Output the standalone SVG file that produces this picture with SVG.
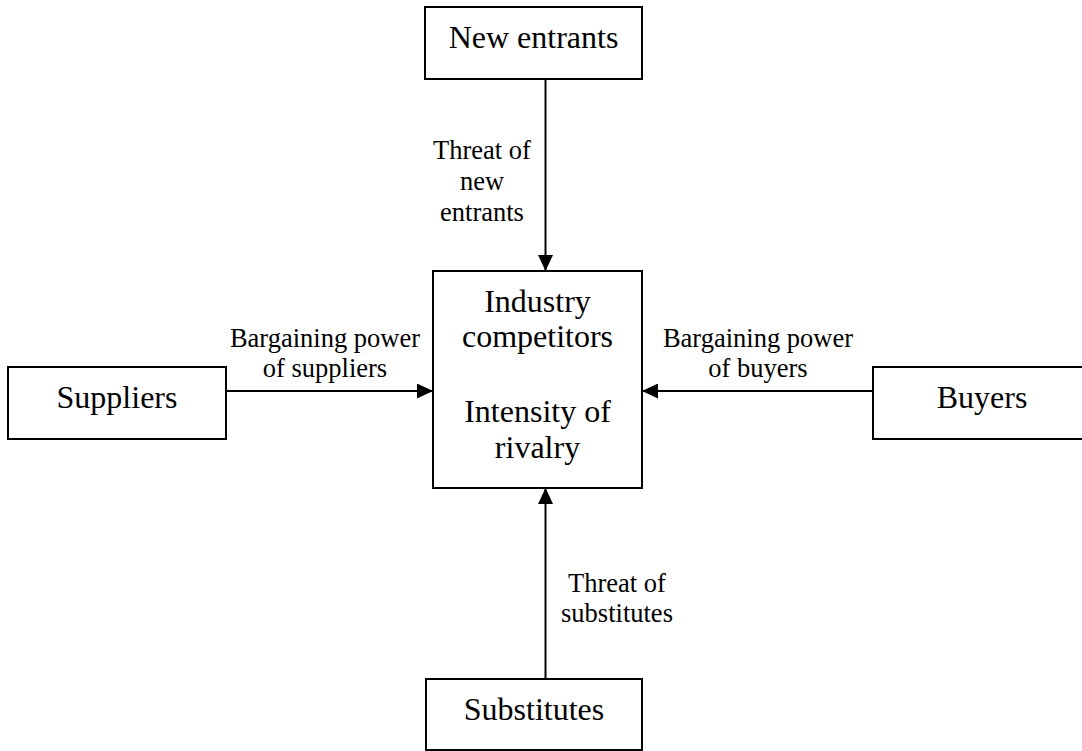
<svg xmlns="http://www.w3.org/2000/svg" width="1082" height="751" viewBox="0 0 1082 751">
<style>
.box{fill:#fff;stroke:#000;stroke-width:2}
.node{font-family:"Liberation Serif","Times New Roman",serif;font-size:32px;fill:#000;text-anchor:middle}
.lbl{font-family:"Liberation Serif","Times New Roman",serif;font-size:26.5px;fill:#000;text-anchor:middle}
.conn{stroke:#000;stroke-width:2;fill:none;marker-end:url(#arr)}
</style>
<defs>
<marker id="arr" markerUnits="userSpaceOnUse" markerWidth="16" markerHeight="15" refX="16" refY="7.5" orient="auto">
<path d="M0,0 L16,7.5 L0,15 Z" fill="#000"/>
</marker>
</defs>
<rect width="1082" height="751" fill="#fff"/>
<g id="connectors">
<line class="conn" x1="545.5" y1="79" x2="545.5" y2="271"/>
<line class="conn" x1="226" y1="391" x2="433" y2="391"/>
<line class="conn" x1="873" y1="391" x2="642" y2="391"/>
<line class="conn" x1="545.5" y1="679" x2="545.5" y2="488"/>
<text class="lbl" x="482" y="159">Threat of</text>
<text class="lbl" x="482" y="190">new</text>
<text class="lbl" x="482" y="221">entrants</text>
<text class="lbl" x="325" y="347">Bargaining power</text>
<text class="lbl" x="325" y="377">of suppliers</text>
<text class="lbl" x="758" y="347">Bargaining power</text>
<text class="lbl" x="758" y="377">of buyers</text>
<text class="lbl" x="617" y="592">Threat of</text>
<text class="lbl" x="617" y="622">substitutes</text>
</g>
<g id="new-entrants">
<rect class="box" x="425" y="7" width="217" height="72"/>
<text class="node" x="533.5" y="48">New entrants</text>
</g>
<g id="industry">
<rect class="box" x="433" y="271" width="209" height="217"/>
<text class="node" x="537.5" y="312">Industry</text>
<text class="node" x="537.5" y="347">competitors</text>
<text class="node" x="537.5" y="422">Intensity of</text>
<text class="node" x="537.5" y="458">rivalry</text>
</g>
<g id="suppliers">
<rect class="box" x="8" y="367" width="218" height="72"/>
<text class="node" x="117" y="408">Suppliers</text>
</g>
<g id="buyers">
<rect class="box" x="873" y="367" width="218" height="72"/>
<text class="node" x="982" y="408">Buyers</text>
</g>
<g id="substitutes">
<rect class="box" x="426" y="679" width="216" height="71"/>
<text class="node" x="534" y="720">Substitutes</text>
</g>
</svg>
